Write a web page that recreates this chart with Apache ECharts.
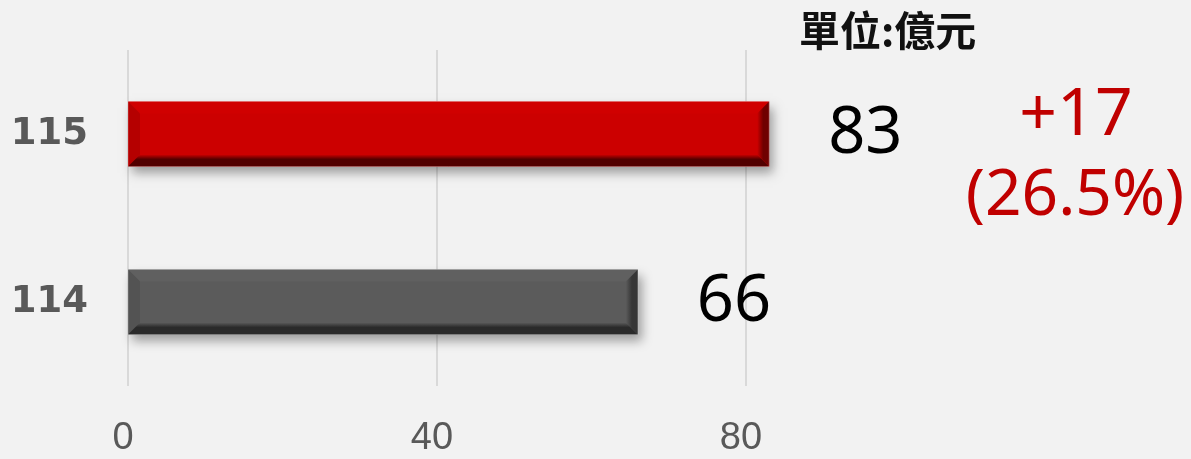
<!DOCTYPE html>
<html>
<head>
<meta charset="utf-8">
<script src="https://cdn.jsdelivr.net/npm/echarts@6/dist/echarts.min.js"></script>
<style>
  html, body { margin: 0; padding: 0; background: #f2f2f2; }
  #main { width: 1191px; height: 459px; }
</style>
</head>
<body>
<div id="main"></div>
<script>
var years = ['114', '115'];
var amounts = [66, 83];
var xTicks = [0, 40, 80];
var unitText = '單位:億元';
var changeText = '+17';
var changePct = '(26.5%)';

// bevel palettes, one per bar (114 gray, 115 red)
var palettes = [
    {main: '#5b5b5b', left: '#535353', top: '#606060', right: '#363636', bottom: '#2a2a2a'},
    {main: '#cc0000', left: '#b50000', top: '#d00000', right: '#700000', bottom: '#520000'}
];

var myChart = echarts.init(document.getElementById('main'));

function renderBar(params, api) {
    var idx = api.value(1);
    var p0 = api.coord([0, idx]);
    var p1 = api.coord([api.value(0), idx]);
    var h = 65, b = 12;
    var x0 = p0[0], x1 = p1[0];
    var y0 = p0[1] - h / 2, y1 = y0 + h;
    var c = palettes[params.dataIndex];
    return {
        type: 'group',
        children: [
            {type: 'rect', shape: {x: x0, y: y0, width: x1 - x0, height: h},
             style: {fill: c.main, shadowBlur: 10, shadowOffsetX: 4, shadowOffsetY: 6, shadowColor: 'rgba(0,0,0,0.35)'}},
            {type: 'polygon', shape: {points: [[x0, y0], [x1, y0], [x1 - b, y0 + b], [x0 + b, y0 + b]]},
             style: {fill: c.top}},
            {type: 'polygon', shape: {points: [[x0, y0], [x0 + b, y0 + b], [x0 + b, y1 - b], [x0, y1]]},
             style: {fill: c.left}},
            {type: 'polygon', shape: {points: [[x0, y1], [x0 + b, y1 - b], [x1 - b, y1 - b], [x1, y1]]},
             style: {fill: new echarts.graphic.LinearGradient(0, 0, 0, 1, [
                 {offset: 0, color: c.main}, {offset: 0.4, color: c.bottom}, {offset: 1, color: c.bottom}])}},
            {type: 'polygon', shape: {points: [[x1, y0], [x1, y1], [x1 - b, y1 - b], [x1 - b, y0 + b]]},
             style: {fill: new echarts.graphic.LinearGradient(0, 0, 1, 0, [
                 {offset: 0, color: c.main}, {offset: 0.5, color: c.right}, {offset: 1, color: c.right}])}},
            {type: 'rect', shape: {x: x0, y: y0, width: x1 - x0, height: h},
             style: {fill: 'none', stroke: 'rgba(255,255,255,0.25)', lineWidth: 1}},
            {type: 'text', x: x1 + 59, y: p1[1],
             style: {text: String(api.value(0)), fill: '#000', font: '65px "Noto Sans"',
                     align: 'left', verticalAlign: 'middle'}}
        ]
    };
}

var option = {
    backgroundColor: '#f2f2f2',
    animation: false,
    grid: {left: 128, right: 445, top: 50, height: 336},
    xAxis: {
        type: 'value',
        min: 0,
        max: 80,
        interval: 40,
        axisLine: {show: false},
        axisTick: {show: false},
        splitLine: {show: true, lineStyle: {color: '#d9d9d9', width: 2}},
        axisLabel: {
            color: '#595959',
            fontFamily: 'Liberation Sans',
            fontSize: 38,
            margin: 53,
            padding: [0, 10, 0, 0],
            verticalAlign: 'middle',
            customValues: xTicks
        }
    },
    yAxis: {
        type: 'category',
        data: years,
        axisLine: {show: false},
        axisTick: {show: false},
        axisLabel: {
            color: '#595959',
            fontFamily: 'DejaVu Sans',
            fontWeight: 'bold',
            fontSize: 37,
            margin: 40
        }
    },
    series: [{
        type: 'custom',
        renderItem: renderBar,
        clip: false,
        encode: {x: 0, y: 1},
        data: amounts.map(function (v, i) { return [v, i]; })
    }],
    graphic: [
        {type: 'text', left: 799, top: 10,
         style: {text: unitText, fill: '#111', font: 'bold 41px "Noto Sans CJK TC"'}},
        {type: 'text', x: 1076, y: 116,
         style: {text: changeText, fill: '#c00000', font: '66px "Noto Sans"', align: 'center', verticalAlign: 'middle'}},
        {type: 'text', x: 1075, y: 197,
         style: {text: changePct, fill: '#c00000', font: '64px "Noto Sans"', align: 'center', verticalAlign: 'middle'}}
    ]
};

myChart.setOption(option);
</script>
</body>
</html>
